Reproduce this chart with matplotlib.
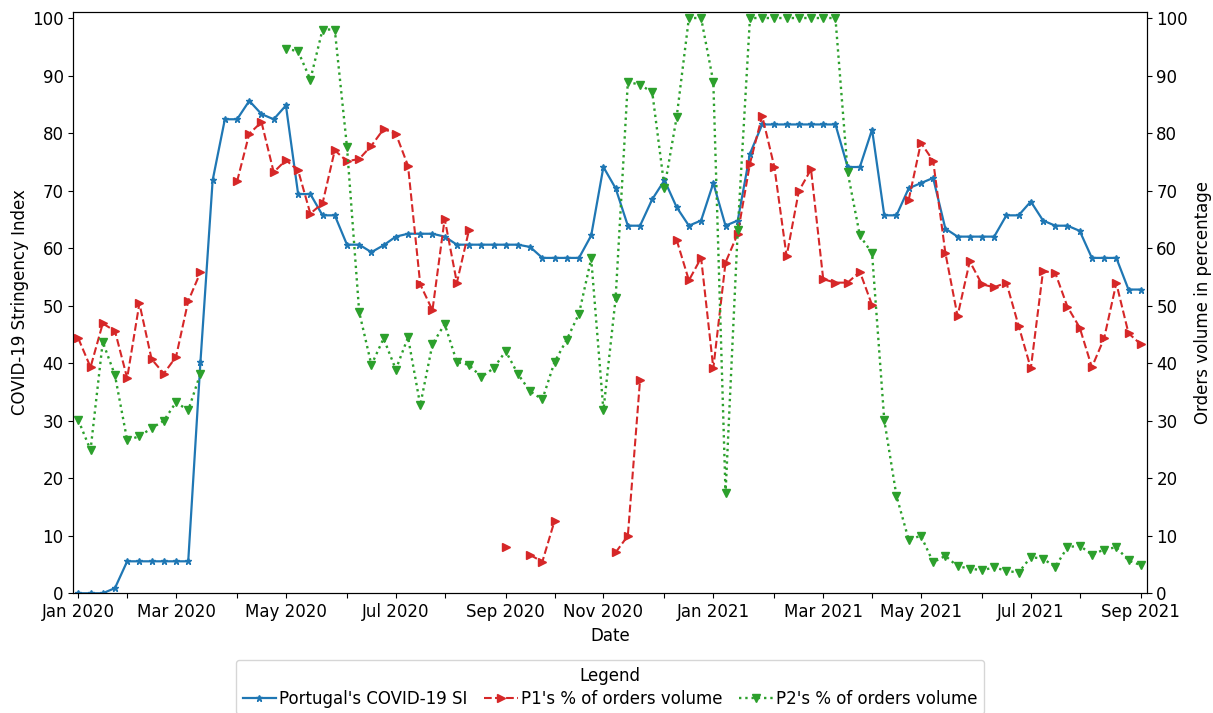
import numpy as np
import pandas as pd
import matplotlib
matplotlib.use("Agg")
import matplotlib.pyplot as plt

nan = np.nan

# Weekly periods (Monday start), first week contains 1 Jan 2020
week_start = "2019-12-30"
n_weeks = 88

# Portugal's COVID-19 stringency index (weekly)
si = [0, 0, 0, 0.9, 5.56, 5.56, 5.56, 5.56, 5.56, 5.56,
      40.2, 71.8, 82.4, 82.4, 85.6, 83.3, 82.4, 84.8, 69.4, 69.4,
      65.7, 65.7, 60.6, 60.6, 59.3, 60.5, 62.0, 62.5, 62.5, 62.5,
      62.0, 60.6, 60.6, 60.6, 60.6, 60.6, 60.6, 60.2, 58.3, 58.3,
      58.3, 58.3, 62.2, 74.1, 70.4, 63.9, 63.9, 68.5, 71.8, 67.1,
      63.9, 64.8, 71.3, 63.9, 64.8, 76.4, 81.5, 81.5, 81.5, 81.5,
      81.5, 81.5, 81.5, 74.1, 74.1, 80.6, 65.7, 65.7, 70.4, 71.3,
      72.2, 63.4, 62.0, 62.0, 62.0, 62.0, 65.7, 65.7, 68.1, 64.8,
      63.9, 63.9, 63.0, 58.3, 58.3, 58.3, 52.8, 52.8]

# P1's share of orders volume (%)
p1 = [44.3, 39.3, 46.9, 45.6, 37.4, 50.4, 40.7, 38.2, 41.1, 50.8,
      55.8, nan, nan, 71.6, 79.9, 81.9, 73.2, 75.3, 73.5, 66.0,
      67.8, 77.0, 75.1, 75.5, 77.8, 80.7, 79.9, 74.3, 53.7, 49.2,
      65.1, 54.0, 63.2, nan, nan, 8.1, nan, 6.65, 5.5, 12.6,
      nan, nan, nan, nan, 7.1, 10.0, 37.1, nan, nan, 61.4,
      54.4, 58.3, 39.1, 57.5, 62.5, 74.7, 83.0, 74.1, 58.6, 69.9,
      73.7, 54.6, 54.0, 54.0, 55.9, 50.1, nan, nan, 68.4, 78.3,
      75.2, 59.2, 48.2, 57.7, 53.7, 53.2, 54.0, 46.5, 39.1, 56.0,
      55.7, 49.8, 46.2, 39.3, 44.3, 53.9, 45.2, 43.3]

# P2's share of orders volume (%)
p2 = [30.1, 24.9, 43.7, 37.9, 26.6, 27.3, 28.7, 30.0, 33.2, 31.8,
      38.2, nan, nan, nan, nan, nan, nan, 94.7, 94.2, 89.3,
      98.0, 98.0, 77.6, 48.9, 39.7, 44.3, 38.9, 44.5, 32.7, 43.3,
      46.8, 40.2, 39.7, 37.6, 39.1, 42.1, 38.1, 35.1, 33.7, 40.2,
      44.1, 48.6, 58.2, 31.8, 51.3, 88.9, 88.4, 87.1, 70.5, 82.8,
      100, 100, 88.9, 17.4, 63.1, 100, 100, 100, 100, 100,
      100, 100, 100, 73.2, 62.2, 59.1, 30.1, 16.9, 9.3, 10.0,
      5.4, 6.5, 4.7, 4.3, 4.0, 4.5, 3.9, 3.6, 6.3, 6.0,
      4.6, 8.0, 8.3, 6.7, 7.6, 8.0, 5.7, 4.9]

dates = pd.date_range(week_start, periods=n_weeks, freq="7D")

# Month ticks sit on the week that contains the 1st of each month
month_starts = pd.date_range("2020-01-01", "2021-09-01", freq="MS")
tick_pos = [m - pd.Timedelta(days=m.weekday()) for m in month_starts]
tick_lab = [m.strftime("%b %Y") if m.month % 2 == 1 else "" for m in month_starts]

plt.rcParams["font.size"] = 12

fig = plt.figure(figsize=(12.13, 7.13), dpi=100)
ax = fig.add_axes([0.0604, 0.1679, 0.8849, 0.8157])
ax2 = ax.twinx()

l1, = ax.plot(dates, si, color="tab:blue", marker="*", markersize=5,
              linestyle="-", linewidth=1.6, label="Portugal's COVID-19 SI")
l2, = ax2.plot(dates, p1, color="tab:red", marker=">", markersize=6,
               linestyle="--", linewidth=1.5, label="P1's % of orders volume")
l3, = ax2.plot(dates, p2, color="tab:green", marker="v", markersize=6,
               linestyle=":", linewidth=1.7, label="P2's % of orders volume")

for a in (ax, ax2):
    a.set_ylim(0, 101.1)
    a.set_yticks(np.arange(0, 101, 10))
    a.tick_params(labelsize=12)

ax.set_xlim(dates[0] - pd.Timedelta(days=2.9), dates[-1] + pd.Timedelta(days=3.4))
ax.set_xticks(tick_pos)
ax.set_xticklabels(tick_lab)

ax.set_xlabel("Date", fontsize=12)
ax.set_ylabel("COVID-19 Stringency Index", fontsize=12, labelpad=2)
ax2.set_ylabel("Orders volume in percentage", fontsize=12)

fig.legend(handles=[l1, l2, l3], title="Legend", ncol=3, fontsize=12,
           title_fontsize=12, loc="upper center",
           bbox_to_anchor=(610 / 1213, 1 - 660 / 713),
           bbox_transform=fig.transFigure, borderaxespad=0.0,
           columnspacing=1.0, handletextpad=0.2, labelspacing=0.3)

fig.savefig("out.png", dpi=100)
